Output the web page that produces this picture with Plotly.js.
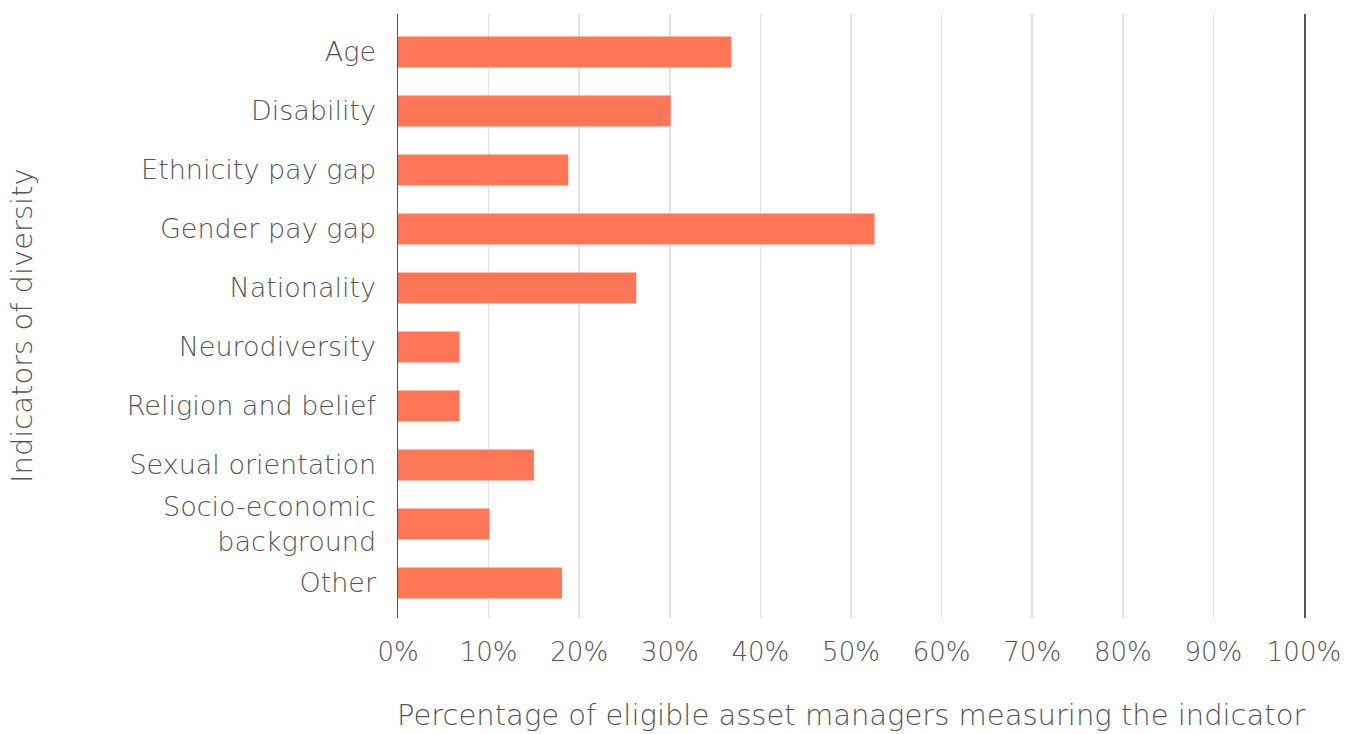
<!DOCTYPE html>
<html>
<head>
<meta charset="utf-8">
<script src="https://cdn.plot.ly/plotly-3.0.1.min.js"></script>
<style>html,body{margin:0;padding:0;background:#fff;}#chart{width:1353px;height:734px;}</style>
</head>
<body>
<div id="chart"></div>
<script>
const categories = ["Age", "Disability", "Ethnicity pay gap", "Gender pay gap", "Nationality", "Neurodiversity", "Religion and belief", "Sexual orientation", "Socio-economic<br>background", "Other"];
const values = [36.8, 30.1, 18.8, 52.6, 26.3, 6.8, 6.8, 15.0, 10.1, 18.1];
const tickVals = [0, 10, 20, 30, 40, 50, 60, 70, 80, 90, 100];
const tickText = ["0%", "10%", "20%", "30%", "40%", "50%", "60%", "70%", "80%", "90%", "100%"];
const xTitle = "Percentage of eligible asset managers measuring the indicator";
const yTitle = "Indicators of diversity";

const fam = "'DejaVu Sans', 'Liberation Sans', sans-serif";
const textColor = "#555555";

const trace = {
  type: "bar",
  orientation: "h",
  y: categories,
  x: values,
  marker: {color: "#FF7657"},
  hoverinfo: "x+y"
};

const layout = {
  width: 1353, height: 734,
  margin: {l: 398, r: 49, t: 14, b: 116},
  paper_bgcolor: "#ffffff", plot_bgcolor: "#ffffff",
  font: {family: fam, size: 26, color: textColor, weight: 200},
  bargap: 0.475,
  showlegend: false,
  xaxis: {
    range: [0, 100],
    tickvals: tickVals, ticktext: tickText,
    showgrid: true, gridcolor: "#e3e3e3", gridwidth: 1.5,
    zeroline: false, showline: false,
    ticks: "", ticklabelstandoff: 16,
    tickfont: {family: fam, size: 26, color: textColor, weight: 200},
    automargin: false, fixedrange: true
  },
  yaxis: {
    type: "category",
    range: [9.593, -0.644],
    showgrid: false, zeroline: false,
    showline: true, linecolor: "#555555", linewidth: 1.5, mirror: true,
    ticks: "", ticklabelstandoff: 15,
    tickfont: {family: fam, size: 27, color: textColor, weight: 200},
    automargin: false, fixedrange: true
  },
  annotations: [
    {text: xTitle, xref: "paper", yref: "paper", x: 0.5, y: -0.161,
     xanchor: "center", yanchor: "middle", showarrow: false,
     font: {family: fam, size: 29, color: textColor, weight: 200}},
    {text: yTitle, xref: "paper", yref: "paper", x: -0.415, y: 0.4834, textangle: -90,
     xanchor: "center", yanchor: "middle", showarrow: false,
     font: {family: fam, size: 29, color: textColor, weight: 200}}
  ]
};

Plotly.newPlot("chart", [trace], layout, {displayModeBar: false, staticPlot: true});
</script>
</body>
</html>
